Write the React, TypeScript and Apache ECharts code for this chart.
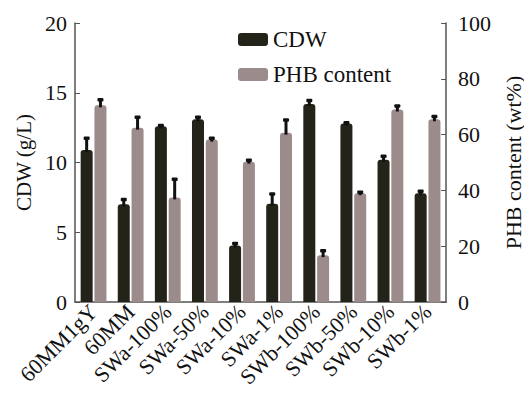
import React, { useEffect, useRef } from "react";
import * as echarts from "echarts";

const categories = ["60MM1gY", "60MM", "SWa-100%", "SWa-50%", "SWa-10%", "SWa-1%", "SWb-100%", "SWb-50%", "SWb-10%", "SWb-1%"];
const cdwValues = [10.9, 7.0, 12.6, 13.1, 4.05, 7.05, 14.2, 12.8, 10.2, 7.8];
const cdwErrors = [0.9, 0.4, 0.1, 0.2, 0.2, 0.75, 0.3, 0.1, 0.3, 0.2];
const phbValues = [70.5, 62.5, 37.5, 58.2, 50.3, 60.7, 16.8, 39.0, 69.0, 65.5];
const phbErrors = [2.3, 4.0, 6.8, 0.8, 0.8, 4.8, 1.8, 0.6, 1.5, 1.3];

const FONT = "Liberation Serif, serif";
const CDW_COLOR = "#23231a";
const PHB_COLOR = "#9b8b8a";
const BAR_W = 12;
const GAP = 1.8;

function errSeries(vals: number[], errs: number[], axisIdx: number, offset: number) {
  return {
    type: "custom",
    yAxisIndex: axisIdx,
    z: 5,
    silent: true,
    data: vals.map((v, i) => [i, v, errs[i]]),
    renderItem: (params: any, api: any) => {
      const c = api.value(0);
      const top = api.value(1);
      const e = api.value(2);
      const p1 = api.coord([c, top]);
      const p2 = api.coord([c, top + e]);
      const x = p1[0] + offset;
      const h = Math.max(p1[1] - p2[1], 1);
      return {
        type: "group",
        children: [
          { type: "rect", shape: { x: x - 1.5, y: p2[1], width: 3, height: h + 2 }, style: { fill: "#111" } },
          { type: "rect", shape: { x: x - 3, y: p2[1] - 1, width: 6, height: 3.5, r: 1 }, style: { fill: "#111" } },
        ],
      };
    },
  };
}

export default function App() {
  const ref = useRef<HTMLDivElement>(null);
  useEffect(() => {
    if (!ref.current) return;
    const chart = echarts.init(ref.current, undefined, { renderer: "svg" });
    const off = (BAR_W + GAP) / 2;
    chart.setOption({
      animation: false,
      backgroundColor: "#fff",
      textStyle: { fontFamily: FONT },
      grid: { left: 75, right: 79, top: 23, bottom: 92, containLabel: false },
      legend: {
        orient: "vertical",
        left: 233,
        top: 23,
        itemWidth: 30,
        itemHeight: 13,
        itemGap: 12,
        icon: "roundRect",
        textStyle: { fontFamily: FONT, fontSize: 23, color: "#111" },
        data: ["CDW", "PHB content"],
      },
      xAxis: {
        type: "category",
        data: categories,
        axisLine: { show: true, lineStyle: { color: "#555", width: 1.5 } },
        axisTick: { show: false },
        axisLabel: { rotate: 45, fontFamily: FONT, fontSize: 22, color: "#111", margin: 6, interval: 0 },
      },
      yAxis: [
        {
          type: "value",
          min: 0,
          max: 20,
          interval: 5,
          name: "CDW (g/L)",
          nameLocation: "middle",
          nameGap: 40,
          nameTextStyle: { fontFamily: FONT, fontSize: 21, color: "#111" },
          axisLine: { show: true, lineStyle: { color: "#555", width: 1.5 } },
          axisTick: { show: true, inside: true, length: 5, lineStyle: { color: "#555" } },
          axisLabel: { fontFamily: FONT, fontSize: 22, color: "#111", margin: 8 },
          splitLine: { show: false },
        },
        {
          type: "value",
          min: 0,
          max: 100,
          interval: 20,
          name: "PHB content (wt%)",
          nameLocation: "middle",
          nameGap: 52,
          nameTextStyle: { fontFamily: FONT, fontSize: 22, color: "#111" },
          axisLine: { show: true, lineStyle: { color: "#555", width: 1.5 } },
          axisTick: { show: true, inside: true, length: 5, lineStyle: { color: "#555" } },
          axisLabel: { fontFamily: FONT, fontSize: 22, color: "#111", margin: 12 },
          splitLine: { show: false },
        },
      ],
      series: [
        {
          name: "CDW",
          type: "bar",
          yAxisIndex: 0,
          barWidth: BAR_W,
          barGap: "15%",
          itemStyle: { color: CDW_COLOR, borderRadius: [3, 3, 0, 0] },
          data: cdwValues,
        },
        {
          name: "PHB content",
          type: "bar",
          yAxisIndex: 1,
          barWidth: BAR_W,
          barGap: "15%",
          itemStyle: { color: PHB_COLOR, borderRadius: [3, 3, 0, 0] },
          data: phbValues,
        },
        errSeries(cdwValues, cdwErrors, 0, -off),
        errSeries(phbValues, phbErrors, 1, off),
      ],
    });
    return () => chart.dispose();
  }, []);
  return <div ref={ref} style={{ width: 532, height: 394, margin: -8 }} />;
}
